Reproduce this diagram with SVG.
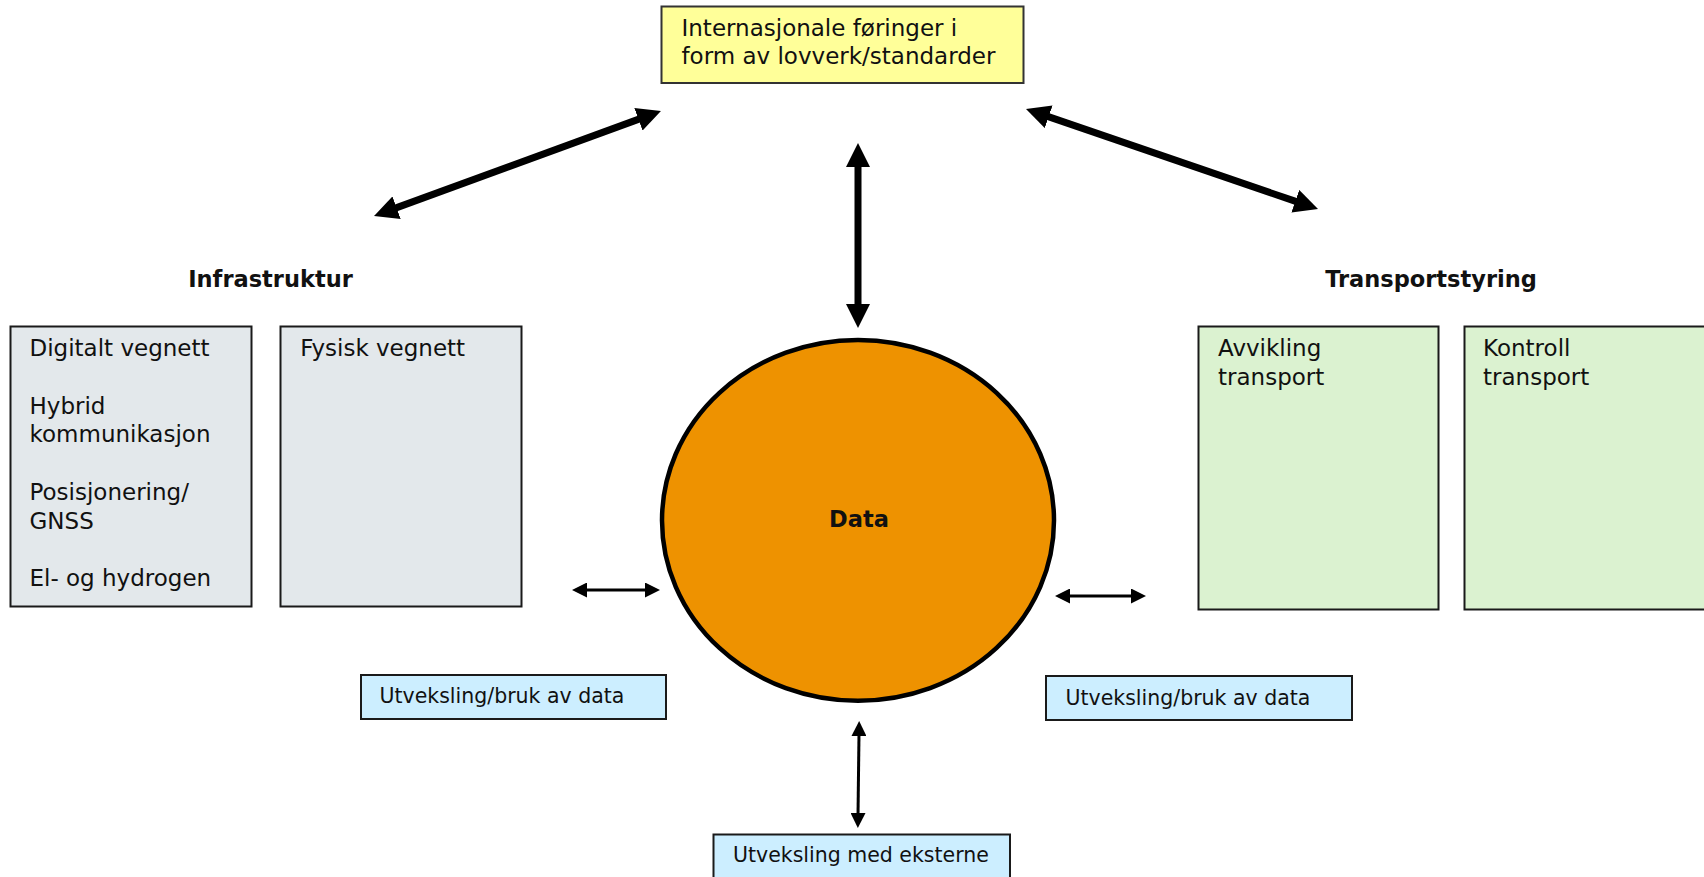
<svg xmlns="http://www.w3.org/2000/svg" width="1704" height="877" viewBox="0 0 1704 877">
<style>
text{font-family:"DejaVu Sans","Liberation Sans",sans-serif;fill:#111}
.t{font-size:23px}
.s{font-size:20.5px}
.h{font-size:22.5px;font-weight:bold;text-anchor:middle}
.box{stroke:#1a1a1a;stroke-width:2}
.gray{fill:#e3e8eb}
.green{fill:#dbf2d0}
.blue{fill:#cceeff}
.yellow{fill:#ffff99;stroke:#333}
.thick{stroke:#000;stroke-width:7;fill:none;marker-start:url(#bigHead);marker-end:url(#bigHead)}
.thin{stroke:#000;stroke-width:3;fill:none;marker-start:url(#smallHead);marker-end:url(#smallHead)}
</style>
<defs>
<marker id="bigHead" markerUnits="userSpaceOnUse" markerWidth="24" markerHeight="24" refX="2" refY="12" orient="auto-start-reverse" viewBox="0 0 24 24">
<path d="M0,0 L24,12 L0,24 z" fill="#000"/>
</marker>
<marker id="smallHead" markerUnits="userSpaceOnUse" markerWidth="15" markerHeight="15" refX="2" refY="7.5" orient="auto-start-reverse" viewBox="0 0 15 15">
<path d="M0,0 L15,7.5 L0,15 z" fill="#000"/>
</marker>
</defs>
<rect width="1704" height="877" fill="#fff"/>

<g id="connectors">
<line class="thick" x1="394.7" y1="208.4" x2="640.3" y2="118.6"/>
<line class="thick" x1="1046.8" y1="116.1" x2="1297.2" y2="201.9"/>
<line class="thick" x1="858" y1="165" x2="858" y2="306"/>
<line class="thin" x1="585" y1="590" x2="647" y2="590"/>
<line class="thin" x1="1068" y1="596" x2="1133" y2="596"/>
<line class="thin" x1="859" y1="734" x2="858" y2="815"/>
</g>

<g id="internasjonale">
<rect class="box yellow" x="661.5" y="6.5" width="362" height="76.5"/>
<text class="t" x="681.5" y="36">Internasjonale føringer i</text>
<text class="t" x="681.5" y="64">form av lovverk/standarder</text>
</g>

<g id="infrastruktur-label">
<text class="h" x="270.5" y="287">Infrastruktur</text>
</g>
<g id="transportstyring-label">
<text class="h" x="1431" y="287">Transportstyring</text>
</g>

<g id="digitalt">
<rect class="box gray" x="10.5" y="326.5" width="241" height="280"/>
<text class="t" x="29.5" y="356">Digitalt vegnett</text>
<text class="t" x="29.5" y="413.6">Hybrid</text>
<text class="t" x="29.5" y="442.4">kommunikasjon</text>
<text class="t" x="29.5" y="500">Posisjonering/</text>
<text class="t" x="29.5" y="528.8">GNSS</text>
<text class="t" x="29.5" y="586.4">El- og hydrogen</text>
</g>

<g id="fysisk">
<rect class="box gray" x="280.5" y="326.5" width="241" height="280"/>
<text class="t" x="300.3" y="356">Fysisk vegnett</text>
</g>

<g id="avvikling">
<rect class="box green" x="1198.5" y="326.5" width="240" height="283"/>
<text class="t" x="1218" y="356">Avvikling</text>
<text class="t" x="1218" y="385">transport</text>
</g>

<g id="kontroll">
<rect class="box green" x="1464.5" y="326.5" width="260" height="283"/>
<text class="t" x="1483" y="356">Kontroll</text>
<text class="t" x="1483" y="385">transport</text>
</g>

<g id="data">
<ellipse cx="858" cy="520.4" rx="196" ry="180.4" fill="#ee9200" stroke="#000" stroke-width="4.5"/>
<text class="h" x="859" y="527">Data</text>
</g>

<g id="utveksling-venstre">
<rect class="box blue" x="361" y="675" width="305" height="44"/>
<text class="s" x="379.5" y="703">Utveksling/bruk av data</text>
</g>

<g id="utveksling-hoyre">
<rect class="box blue" x="1046" y="676" width="306" height="44"/>
<text class="s" x="1065.5" y="704.5">Utveksling/bruk av data</text>
</g>

<g id="utveksling-eksterne">
<rect class="box blue" x="713.5" y="834.5" width="296.5" height="60"/>
<text class="s" x="733" y="861.5">Utveksling med eksterne</text>
</g>
</svg>
